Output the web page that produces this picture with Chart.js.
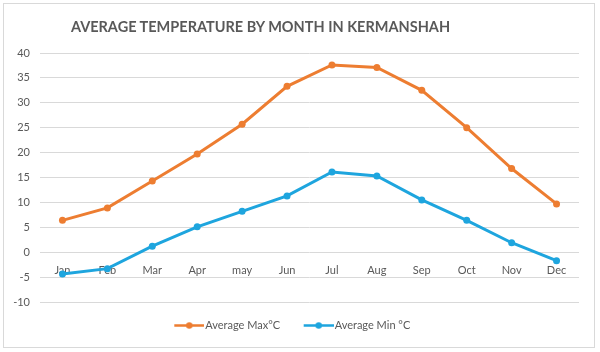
<!DOCTYPE html>
<html lang="en">
<head>
    <meta charset="UTF-8">
    <title>Average Temperature by Month in Kermanshah</title>
    <script src="https://cdn.jsdelivr.net/npm/chart.js"></script>
    <style>
        body {
            margin: 0;
            padding: 0;
            background-color: #ffffff;
            font-family: Lato, sans-serif;
        }

        /* light frame around the whole chart, like the Excel chart area */
        .frame {
            position: absolute;
            left: 3px;
            top: 3px;
            width: 590px;
            height: 343px;
            border: 1px solid #d9d9d9;
        }

        /* Excel puts the title a bit left of centre, so it sits outside the canvas */
        .chart-title {
            position: absolute;
            left: 0;
            top: 18px;
            width: 521px;
            margin: 0;
            text-align: center;
            font-family: Lato, sans-serif;
            font-size: 14.5px;
            font-weight: bold;
            line-height: 18px;
            color: #595959;
            white-space: nowrap;
            z-index: 2;
        }

        .chart-box {
            position: absolute;
            left: 0;
            top: 0;
            width: 600px;
            height: 352px;
        }
    </style>
</head>
<body>
    <div class="frame"></div>
    <h1 class="chart-title">AVERAGE TEMPERATURE BY MONTH IN KERMANSHAH</h1>
    <div class="chart-box">
        <canvas id="temp-chart" width="600" height="352"></canvas>
    </div>

    <script>
        const months = ['Jan', 'Feb', 'Mar', 'Apr', 'may', 'Jun', 'Jul', 'Aug', 'Sep', 'Oct', 'Nov', 'Dec'];
        const avgMax = [6.4, 8.9, 14.3, 19.7, 25.7, 33.3, 37.6, 37.1, 32.5, 25.0, 16.8, 9.7];
        const avgMin = [-4.4, -3.3, 1.2, 5.1, 8.2, 11.3, 16.1, 15.3, 10.5, 6.4, 1.9, -1.7];
        const yTicks = [-10, -5, 0, 5, 10, 15, 20, 25, 30, 35, 40];

        const textGray = '#595959';
        const gridGray = '#d9d9d9';
        const orange = '#ed7d31';
        const blue = '#1ea5de';

        // legend marker: short line with a dot in the middle,
        // drawn on the right part of the image so it almost touches the label text
        function legendMarker(color) {
            let c = document.createElement('canvas');
            c.width = 40;
            c.height = 9;
            let g = c.getContext('2d');
            g.strokeStyle = color;
            g.lineWidth = 2.5;
            g.beginPath();
            g.moveTo(10, 4.5);
            g.lineTo(40, 4.5);
            g.stroke();
            g.fillStyle = color;
            g.beginPath();
            g.arc(25, 4.5, 3.2, 0, Math.PI * 2);
            g.fill();
            return c;
        }

        let ctx = document.getElementById('temp-chart').getContext('2d');
        let tempChart = new Chart(ctx, {
            type: 'line',
            data: {
                labels: months,
                datasets: [{
                    label: 'Average Max°C',
                    data: avgMax,
                    borderColor: orange,
                    backgroundColor: orange,
                    borderWidth: 3,
                    pointRadius: 3.5,
                    pointBorderWidth: 0,
                    tension: 0
                }, {
                    label: 'Average Min °C',
                    data: avgMin,
                    borderColor: blue,
                    backgroundColor: blue,
                    borderWidth: 3,
                    pointRadius: 3.5,
                    pointBorderWidth: 0,
                    tension: 0
                }]
            },
            options: {
                responsive: false,
                animation: false,
                layout: {
                    padding: { left: 0, right: 21, top: 53, bottom: 11 }
                },
                scales: {
                    x: {
                        position: { y: 0 },
                        offset: true,
                        grid: { display: false, drawTicks: false },
                        border: { display: false },
                        ticks: {
                            color: textGray,
                            font: { family: 'Lato', size: 11 },
                            padding: 12,
                            maxRotation: 0
                        }
                    },
                    y: {
                        min: -10,
                        max: 40,
                        afterBuildTicks: (scale) => {
                            scale.ticks = yTicks.map(v => ({ value: v }));
                        },
                        afterFit: (scale) => {
                            scale.width = 40;
                        },
                        grid: { color: gridGray, drawTicks: false },
                        border: { display: false },
                        ticks: {
                            color: textGray,
                            font: { family: 'Lato', size: 11 },
                            padding: 10
                        }
                    }
                },
                plugins: {
                    title: { display: false },
                    legend: {
                        position: 'bottom',
                        labels: {
                            color: textGray,
                            font: { family: 'Lato', size: 11 },
                            usePointStyle: true,
                            pointStyleWidth: 31,
                            boxWidth: 31,
                            padding: 18,
                            generateLabels: (chart) => {
                                let items = Chart.defaults.plugins.legend.labels.generateLabels(chart);
                                items.forEach(item => {
                                    item.pointStyle = legendMarker(chart.data.datasets[item.datasetIndex].borderColor);
                                });
                                return items;
                            }
                        }
                    },
                    tooltip: { enabled: false }
                }
            }
        });
    </script>
</body>
</html>
